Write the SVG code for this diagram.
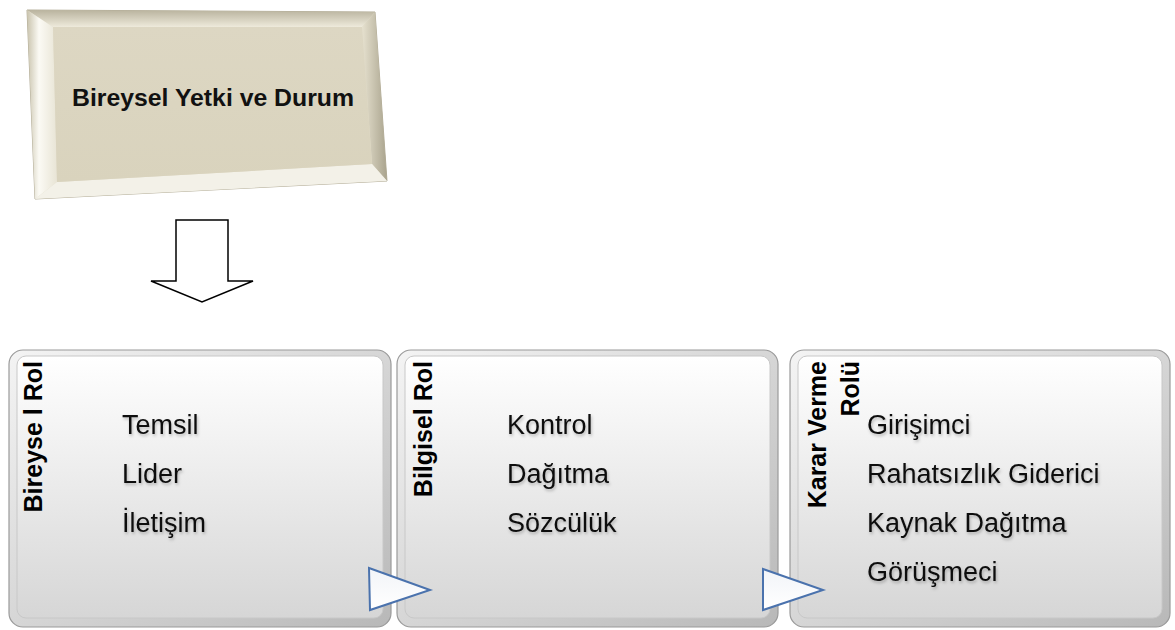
<svg xmlns="http://www.w3.org/2000/svg" width="1175" height="630" viewBox="0 0 1175 630">
  <defs>
    <linearGradient id="faceGrad" x1="0" y1="0" x2="0" y2="1">
      <stop offset="0" stop-color="#ffffff"/>
      <stop offset="1" stop-color="#d6d6d6"/>
    </linearGradient>
    <linearGradient id="rimGrad" x1="0" y1="0" x2="1" y2="1">
      <stop offset="0" stop-color="#f4f4f4"/>
      <stop offset="1" stop-color="#b8b8b8"/>
    </linearGradient>
    <linearGradient id="beigeGrad" x1="0" y1="0" x2="0" y2="1">
      <stop offset="0" stop-color="#ddd7c3"/>
      <stop offset="1" stop-color="#d9d3bd"/>
    </linearGradient>
    <linearGradient id="topBevel" x1="0" y1="0" x2="0" y2="1">
      <stop offset="0" stop-color="#b9b39e"/>
      <stop offset="1" stop-color="#eeeadb"/>
    </linearGradient>
    <linearGradient id="leftBevel" x1="0" y1="0" x2="1" y2="0">
      <stop offset="0" stop-color="#c9c3ad"/>
      <stop offset="0.4" stop-color="#fbfaf4"/>
      <stop offset="1" stop-color="#e8e4d5"/>
    </linearGradient>
    <linearGradient id="rightBevel" x1="0" y1="0" x2="1" y2="0">
      <stop offset="0" stop-color="#e6e1cf"/>
      <stop offset="1" stop-color="#a9a38d"/>
    </linearGradient>
    <linearGradient id="triGrad" x1="0" y1="0" x2="0" y2="1">
      <stop offset="0" stop-color="#f2f4f8"/>
      <stop offset="1" stop-color="#ffffff"/>
    </linearGradient>
    <filter id="soft" x="-10%" y="-20%" width="130%" height="160%">
      <feDropShadow dx="1" dy="2" stdDeviation="1.5" flood-color="#000" flood-opacity="0.25"/>
    </filter>
  </defs>
  <style>
    .rim { fill: url(#rimGrad); stroke: #9a9a9a; stroke-width: 1.2; }
    .face { fill: url(#faceGrad); stroke: #c8c8c8; stroke-width: 1; }
    .title { font-family: "Liberation Sans", Arial, sans-serif; font-weight: bold; font-size: 25px; fill: #000; }
    .item { font-family: "Liberation Sans", Arial, sans-serif; font-size: 27px; fill: #111; filter: url(#soft); }
    .head { font-family: "Liberation Sans", Arial, sans-serif; font-weight: bold; font-size: 24px; fill: #111; }
    .tri { fill: url(#triGrad); stroke: #4a72ad; stroke-width: 2; stroke-linejoin: miter; }
  </style>

  <rect width="1175" height="630" fill="#ffffff"/>

  <!-- bevelled heading plate -->
  <g id="heading">
    <polygon points="27,10 375,12 387,181 35,199" fill="#e2ddcb" stroke="#b3ad98" stroke-width="1"/>
    <polygon points="27,10 375,12 362,27 53,27" fill="url(#topBevel)"/>
    <polygon points="27,10 53,27 57,182 35,199" fill="url(#leftBevel)"/>
    <polygon points="375,12 387,181 372,164 362,27" fill="url(#rightBevel)"/>
    <polygon points="35,199 57,182 372,164 387,181" fill="#f3f1e8"/>
    <polygon points="53,27 362,27 372,164 57,182" fill="url(#beigeGrad)"/>
    <text class="head" x="213" y="106" text-anchor="middle" textLength="282" lengthAdjust="spacingAndGlyphs">Bireysel Yetki ve Durum</text>
  </g>

  <g id="connectors">
    <!-- block arrow down -->
    <polygon points="176,220 228,220 228,281 253,281 202,302 151,281 176,281" fill="#ffffff" stroke="#000" stroke-width="1.5" stroke-linejoin="miter"/>
  </g>

  <!-- role 1 -->
  <g id="role-bireysel">
    <rect class="rim" x="9" y="350" width="382" height="277" rx="14"/>
    <rect class="face" x="17" y="356" width="366" height="262" rx="9"/>
    <text class="title" transform="translate(42,361) rotate(-90)" text-anchor="end">Bireyse l Rol</text>
    <text class="item" x="122" y="434">Temsil</text>
    <text class="item" x="122" y="483">Lider</text>
    <text class="item" x="122" y="532">İletişim</text>
  </g>

  <!-- role 2 -->
  <g id="role-bilgisel">
    <rect class="rim" x="397" y="350" width="381" height="277" rx="14"/>
    <rect class="face" x="405" y="356" width="365" height="262" rx="9"/>
    <text class="title" transform="translate(432,361) rotate(-90)" text-anchor="end">Bilgisel Rol</text>
    <text class="item" x="507" y="434">Kontrol</text>
    <text class="item" x="507" y="483">Dağıtma</text>
    <text class="item" x="507" y="532">Sözcülük</text>
  </g>

  <!-- role 3 -->
  <g id="role-karar">
    <rect class="rim" x="790" y="350" width="380" height="277" rx="14"/>
    <rect class="face" x="798" y="356" width="364" height="262" rx="9"/>
    <text class="title" transform="translate(826,361) rotate(-90)" text-anchor="end">Karar Verme</text>
    <text class="title" transform="translate(859,361) rotate(-90)" text-anchor="end">Rolü</text>
    <text class="item" x="867" y="434">Girişimci</text>
    <text class="item" x="867" y="483">Rahatsızlık Giderici</text>
    <text class="item" x="867" y="532">Kaynak Dağıtma</text>
    <text class="item" x="867" y="581">Görüşmeci</text>
  </g>

  <g id="flow-arrows">
    <polygon class="tri" points="369,568 430,590 370,610"/>
    <polygon class="tri" points="763,569 823,590 763,610"/>
  </g>
</svg>
